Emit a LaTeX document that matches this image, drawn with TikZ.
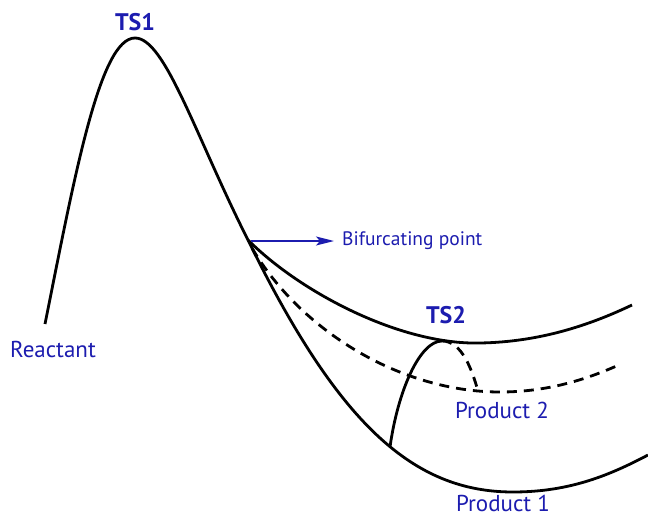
\documentclass[tikz,border=0pt]{standalone}
\usepackage{fontspec}
\setmainfont{PT Sans}
\usetikzlibrary{arrows.meta}
\definecolor{lblue}{RGB}{28,28,175}
\tikzset{
  curve/.style={line width=2.8pt, black},
  dcurve/.style={curve, dash pattern=on 10pt off 7pt},
  lbl/.style={text=lblue, font=\fontsize{23}{26}\selectfont, inner sep=0pt, anchor=base},
  tslbl/.style={text=lblue, font=\fontsize{24}{28}\selectfont\bfseries, inner sep=0pt, anchor=base},
  pointer/.style={lblue, line width=1.5pt, -{Stealth[length=18pt,width=9pt,inset=4pt]}}
}
\begin{document}
\begin{tikzpicture}[x=1pt,y=-1pt]
\useasboundingbox (0,0) rectangle (648,519);
% key points
\coordinate (R) at (45,324);
\coordinate (T1) at (135,38);
\coordinate (B) at (248,240);
\coordinate (U) at (632,305);
\coordinate (Dstart) at (252,248);
\coordinate (D) at (621,364);
\coordinate (L) at (648,455);
\coordinate (J) at (390,447);
\coordinate (T2) at (442,341);
\coordinate (P2) at (478,391);
% reactant -> TS1 -> bifurcating point
\draw[curve] (R) .. controls (75,174) and (100,38) .. (T1) .. controls (165,38) and (195,135) .. (B);
% upper branch
\draw[curve] (B) .. controls (300,292) and (400,345) .. (480,343) .. controls (540,342) and (590,325) .. (U);
% dashed branch
\draw[dcurve] (Dstart) .. controls (300,330) and (400,392) .. (500,392) .. controls (550,392) and (590,378) .. (D);
% lower branch
\draw[curve] (B) .. controls (338,424) and (413,492) .. (513,492) .. controls (570,492) and (610,475) .. (L);
% TS2 crossing
\draw[curve] (J) .. controls (398,390) and (420,341) .. (T2);
\draw[dcurve] (T2) .. controls (462,341) and (472,370) .. (P2);
% labels
\node[tslbl] (ts1) at (135,31) {TS1};
\node[tslbl] (ts2) at (446,323) {TS2};
\node[lbl] (reac) at (53,357) {Reactant};
\node[lbl] (prod2) at (502,418) {Product 2};
\node[lbl] (prod1) at (503,511) {Product 1};
\node[text=lblue, font=\fontsize{19.5}{22}\selectfont, inner sep=0pt, anchor=west] (bif) at (342,241) {Bifurcating point};
\coordinate (Bs) at (251,241);
\coordinate (Be) at (334,241);
\draw[pointer] (Bs) -- (Be);
\end{tikzpicture}
\end{document}
